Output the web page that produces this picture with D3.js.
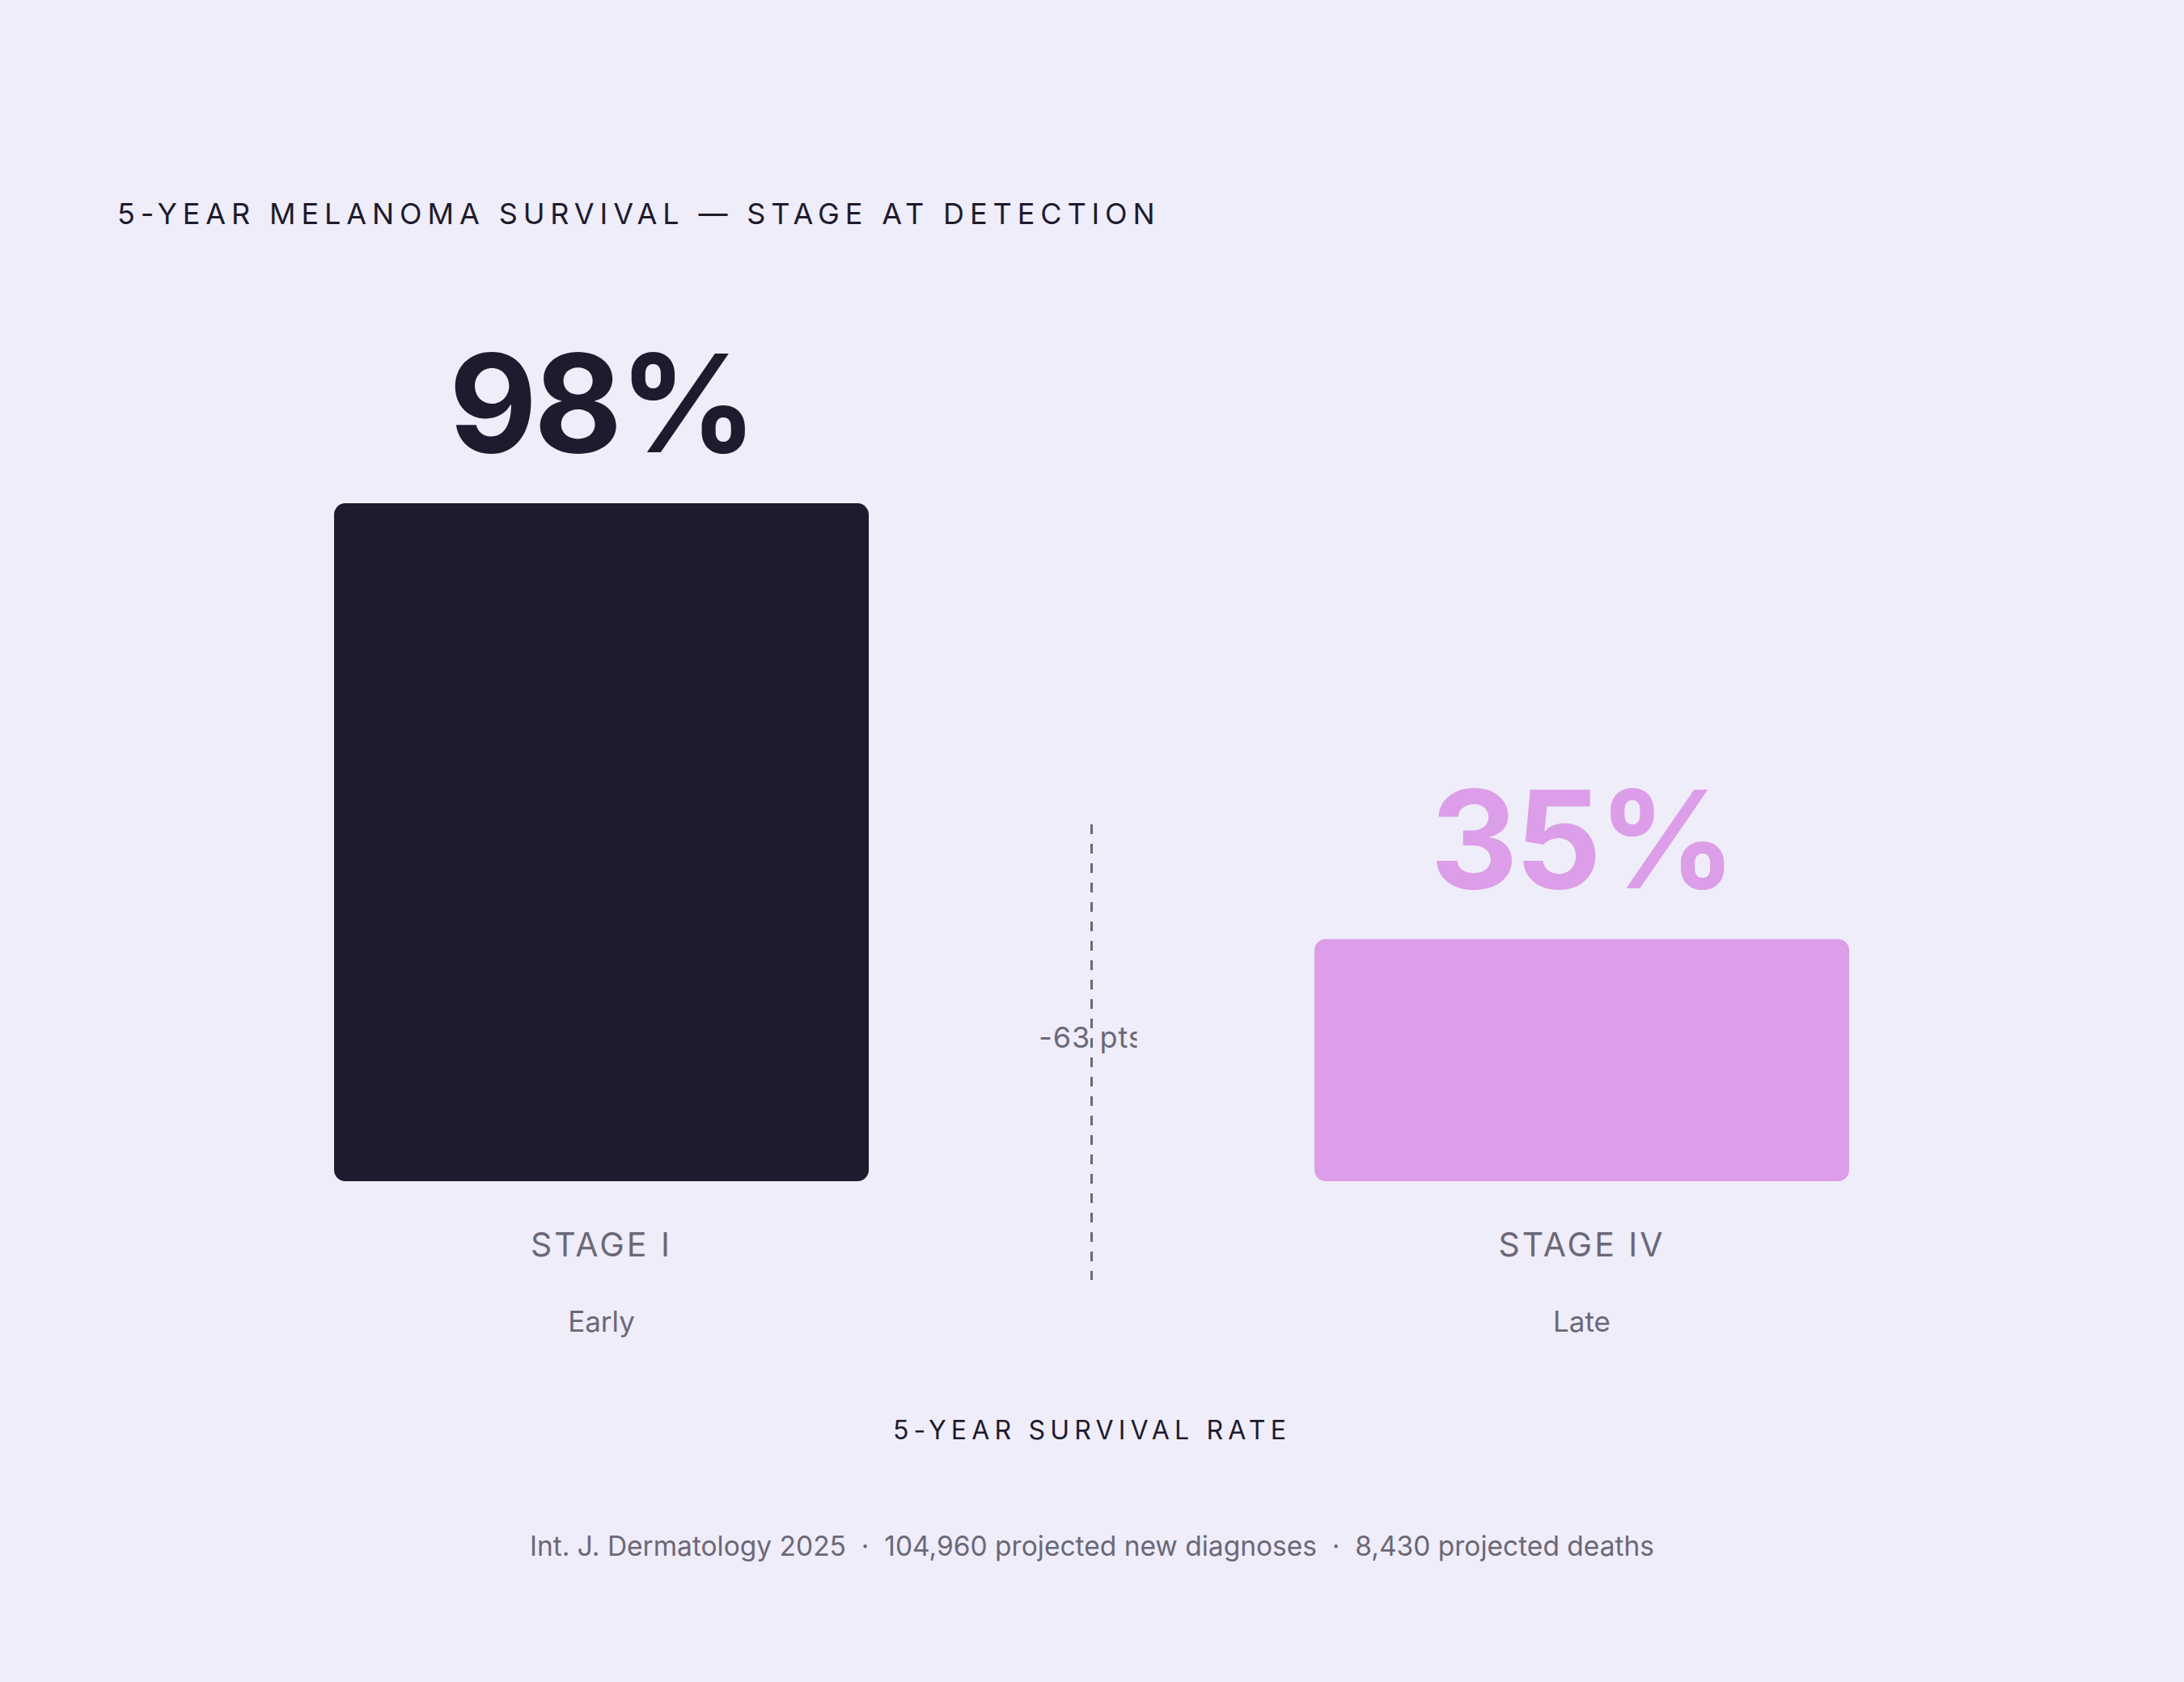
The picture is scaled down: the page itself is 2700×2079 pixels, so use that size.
<!DOCTYPE html>
<html><head><meta charset="utf-8">
<script src="https://cdn.jsdelivr.net/npm/d3@7"></script>
<style>
html,body{margin:0;padding:0;background:#efedf9;}
svg{display:block;}
</style></head>
<body>
<script>
const categories = ["STAGE I", "STAGE IV"];
const subLabels = ["Early", "Late"];
const survival = [98, 35];
const titleText = "5-YEAR MELANOMA SURVIVAL — STAGE AT DETECTION";
const axisTitle = "5-YEAR SURVIVAL RATE";
const footerText = "Int. J. Dermatology 2025  ·  104,960 projected new diagnoses  ·  8,430 projected deaths";

const W = 2700, H = 2079;
const font = "Inter, 'DejaVu Sans', sans-serif";
const colors = ["#1e1b2e", "#dc9ee8"];
const grey = "#6b6878";

const svg = d3.select("body").append("svg").attr("width", W).attr("height", H)
  .style("font-family", font);
svg.append("rect").attr("width", W).attr("height", H).attr("fill", "#efedf9");

const x = d3.scaleBand().domain(categories).range([137.5, 2561.5]).paddingInner(0.4546).paddingOuter(0.2273);
const y = d3.scaleLinear().domain([0, 100]).range([1460, 605]);

svg.append("text").attr("x", 145).attr("y", 277).text(titleText)
  .attr("font-size", 36).attr("letter-spacing", 6.9).attr("fill", "#1e1b2e").attr("font-weight", 400);

const data = categories.map((c, i) => ({c, v: survival[i], sub: subLabels[i], color: colors[i]}));

svg.selectAll("rect.bar").data(data).join("rect").attr("class", "bar")
  .attr("x", d => x(d.c)).attr("width", x.bandwidth())
  .attr("y", d => y(d.v)).attr("height", d => y(0) - y(d.v))
  .attr("rx", 14).attr("ry", 14).attr("fill", d => d.color);

svg.selectAll("text.val").data(data).join("text").attr("class", "val")
  .attr("x", d => x(d.c) + x.bandwidth() / 2).attr("y", d => y(d.v) - 63)
  .attr("text-anchor", "middle").attr("font-size", 168).attr("font-weight", 700)
  .attr("letter-spacing", -4)
  .attr("fill", d => d.color).text(d => d.v + "%");

svg.selectAll("text.cat").data(data).join("text").attr("class", "cat")
  .attr("x", d => x(d.c) + x.bandwidth() / 2).attr("y", y(0) + 93)
  .attr("text-anchor", "middle").attr("font-size", 41).attr("letter-spacing", 3)
  .attr("fill", grey).text(d => d.c);

svg.selectAll("text.sub").data(data).join("text").attr("class", "sub")
  .attr("x", d => x(d.c) + x.bandwidth() / 2).attr("y", y(0) + 186)
  .attr("text-anchor", "middle").attr("font-size", 35)
  .attr("fill", grey).text(d => d.sub);

// gap annotation
const midX = (x(categories[0]) + x.bandwidth() + x(categories[1])) / 2;
svg.append("line").attr("x1", midX).attr("x2", midX).attr("y1", 1019).attr("y2", 1582)
  .attr("stroke", grey).attr("stroke-width", 3).attr("stroke-dasharray", "12 12");
svg.append("clipPath").attr("id", "gapclip").append("rect")
  .attr("x", midX - 200).attr("y", 1200).attr("width", 256).attr("height", 150);
svg.append("text").attr("clip-path", "url(#gapclip)")
  .attr("x", midX).attr("y", 1295).attr("text-anchor", "middle")
  .attr("font-size", 36).attr("letter-spacing", 1).attr("fill", grey)
  .text((survival[1] - survival[0]) + " pts");

svg.append("text").attr("x", 1350).attr("y", 1779).attr("text-anchor", "middle")
  .attr("font-size", 32).attr("letter-spacing", 6.2).attr("fill", "#1e1b2e").text(axisTitle);

svg.append("text").attr("x", 1350).attr("y", 1923).attr("text-anchor", "middle")
  .attr("font-size", 33.5).attr("fill", grey).attr("xml:space", "preserve").style("white-space", "pre").text(footerText);
</script>
</body></html>
